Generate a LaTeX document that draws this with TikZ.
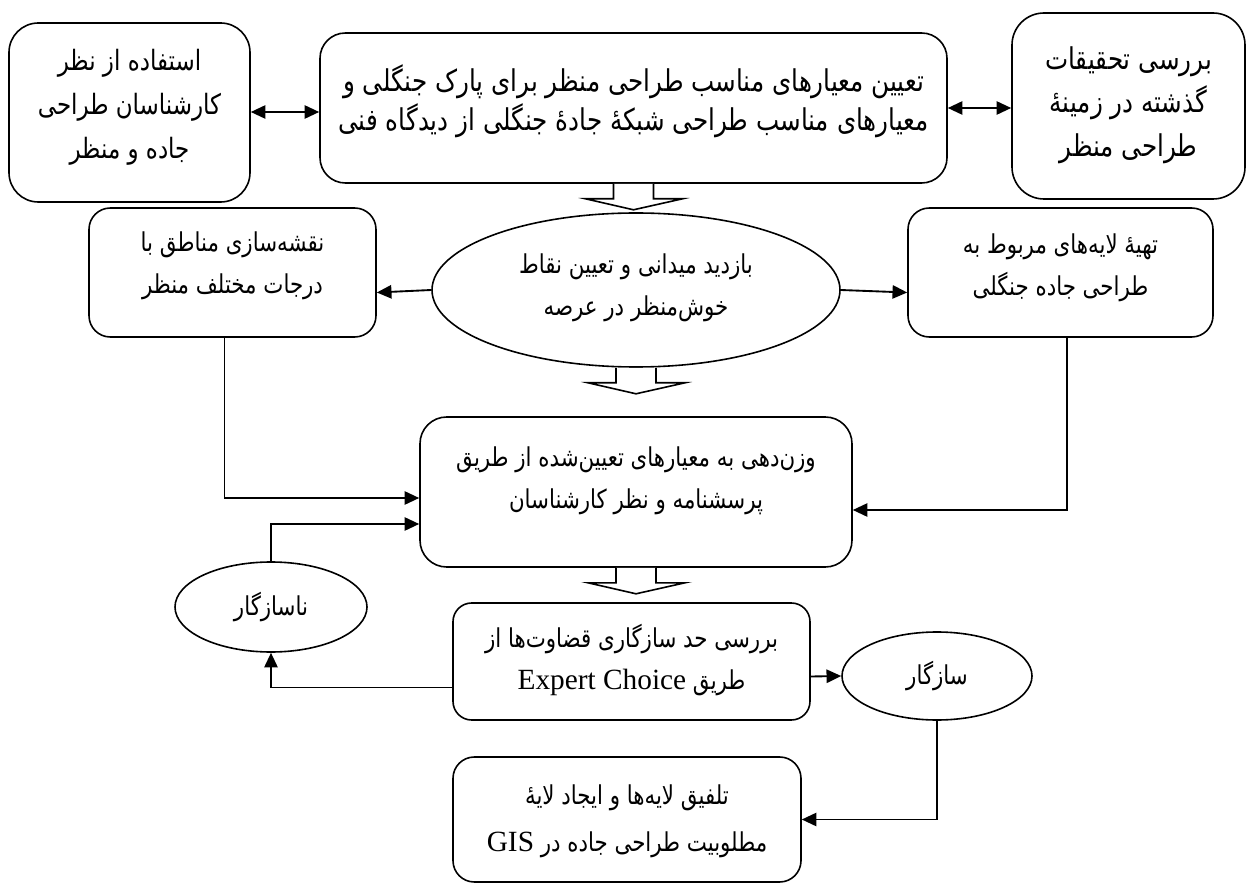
\documentclass[tikz,border=0pt]{standalone}
\usepackage{fontspec}
\setmainfont{Liberation Serif}
\newfontfamily\arfont[Script=Arabic,FakeStretch=0.82]{DejaVu Sans}
\TeXXeTstate=1
\usetikzlibrary{shapes.geometric,arrows.meta,calc,fit}
\newcommand\fa[1]{\beginR#1\endR}
\newcommand\latx[1]{\beginL{\fontspec{Liberation Serif}\fontsize{22}{31.5}\selectfont #1}\endL}
\tikzset{
  box/.style={draw, line width=1.2pt, inner sep=0pt},
  oval/.style={draw, ellipse, line width=1.2pt, inner sep=0pt},
  txt/.style={align=center, font=\arfont\fontsize{19.5}{31.5}\selectfont, inner sep=0pt},
  bigtxt/.style={align=center, font=\arfont\fontsize{22}{31.5}\selectfont, inner sep=0pt},
  arr/.style={line width=1.4pt, -{Triangle[length=11pt,width=10pt]}},
  darr/.style={line width=1.4pt, {Triangle[length=11pt,width=10pt]}-{Triangle[length=11pt,width=10pt]}},
  blk/.style={draw, fill=white, line width=1.2pt, line join=miter},
  blockdown/.pic={\draw[blk] (-20,0) -- (-20,15) -- (-48,15) -- (0,26) -- (49,15) -- (20,15) -- (20,0);}
}
\begin{document}
\begin{tikzpicture}[x=0.75pt,y=-0.75pt]
\useasboundingbox (0,0) rectangle (1247,884);

% boxes
\node[box, rounded corners=22pt, fit={(9,23) (250,202)}] (A) {};
\node[box, rounded corners=19pt, fit={(320,33) (947,183)}] (B) {};
\node[box, rounded corners=24pt, fit={(1012,13) (1245,199)}] (C) {};
\node[box, rounded corners=16pt, fit={(89,208) (376,337)}] (L) {};
\node[box, rounded corners=16pt, fit={(908,208) (1213,337)}] (R) {};
\node[oval, minimum width=306pt, minimum height=115.5pt] (V) at (636,290) {};
\node[box, rounded corners=20pt, fit={(420,417) (852,567)}] (W) {};
\node[box, rounded corners=14pt, fit={(453,603) (810,720)}] (E) {};
\node[oval, minimum width=144pt, minimum height=67.5pt] (N) at (271,607) {};
\node[oval, minimum width=142.5pt, minimum height=66pt] (S) at (937,676) {};
\node[box, rounded corners=16pt, fit={(453,757) (801,882)}] (F) {};

% texts
\node[txt, font=\arfont\fontsize{21}{33}\selectfont] (At) at (129.5,107) {\fa{استفاده از نظر}\\\fa{کارشناسان طراحی}\\\fa{جاده و منظر}};
\node[bigtxt, font=\arfont\fontsize{22.5}{29}\selectfont] (Bt) at (633.5,101) {\fa{تعیین معیارهای مناسب طراحی منظر برای پارک جنگلی و}\\\fa{معیارهای مناسب طراحی شبکهٔ جادهٔ جنگلی از دیدگاه فنی}};
\node[bigtxt, font=\arfont\fontsize{22.5}{32.5}\selectfont] (Ct) at (1128.5,105) {\fa{بررسی تحقیقات}\\\fa{گذشته در زمینهٔ}\\\fa{طراحی منظر}};
\node[txt] (Lt) at (232.5,266) {\fa{نقشه‌سازی مناطق با}\\\fa{درجات مختلف منظر}};
\node[txt] (Vt) at (636,288) {\fa{بازدید میدانی و تعیین نقاط}\\\fa{خوش‌منظر در عرصه}};
\node[txt] (Rt) at (1060.5,268) {\fa{تهیهٔ لایه‌های مربوط به}\\\fa{طراحی جاده جنگلی}};
\node[txt] (Wt) at (636,481) {\fa{وزن‌دهی به معیارهای تعیین‌شده از طریق}\\\fa{پرسشنامه و نظر کارشناسان}};
\node[txt] (Et) at (631.5,660) {\fa{بررسی حد سازگاری قضاوت‌ها از}\\\beginR طریق \latx{Expert Choice}\endR};
\node[txt] (Nt) at (271,607) {\fa{ناسازگار}};
\node[txt] (St) at (937,676) {\fa{سازگار}};
\node[txt, font=\arfont\fontsize{19.5}{35}\selectfont] (Ft) at (627,821) {\fa{تلفیق لایه‌ها و ایجاد لایهٔ}\\\beginR مطلوبیت طراحی جاده در \latx{GIS}\endR};

% block arrows
\pic at (B.south) {blockdown};
\pic at (V.south) {blockdown};
\pic at (W.south) {blockdown};

% connectors
\draw[darr] (A.east |- 0,112) -- (B.west |- 0,112);
\draw[darr] (B.east |- 0,108) -- (C.west |- 0,108);
\draw[arr] (V.west) -- ($(L.east)+(0,20)$);
\draw[arr] (V.east) -- ($(R.west)+(0,20)$);
\draw[arr] ($(L.south)+(-8,0)$) |- ($(W.west)+(0,6)$);
\draw[arr] ($(R.south)+(6.5,0)$) |- ($(W.east)+(0,18)$);
\draw[arr] (N.north) |- ($(W.west)+(0,32)$);
\draw[arr] ($(E.west)+(0,26)$) -| (N.south);
\draw[arr] ($(E.east)+(0,15)$) -- (S.west);
\draw[arr] (S.south) |- (F.east);
\end{tikzpicture}
\end{document}
